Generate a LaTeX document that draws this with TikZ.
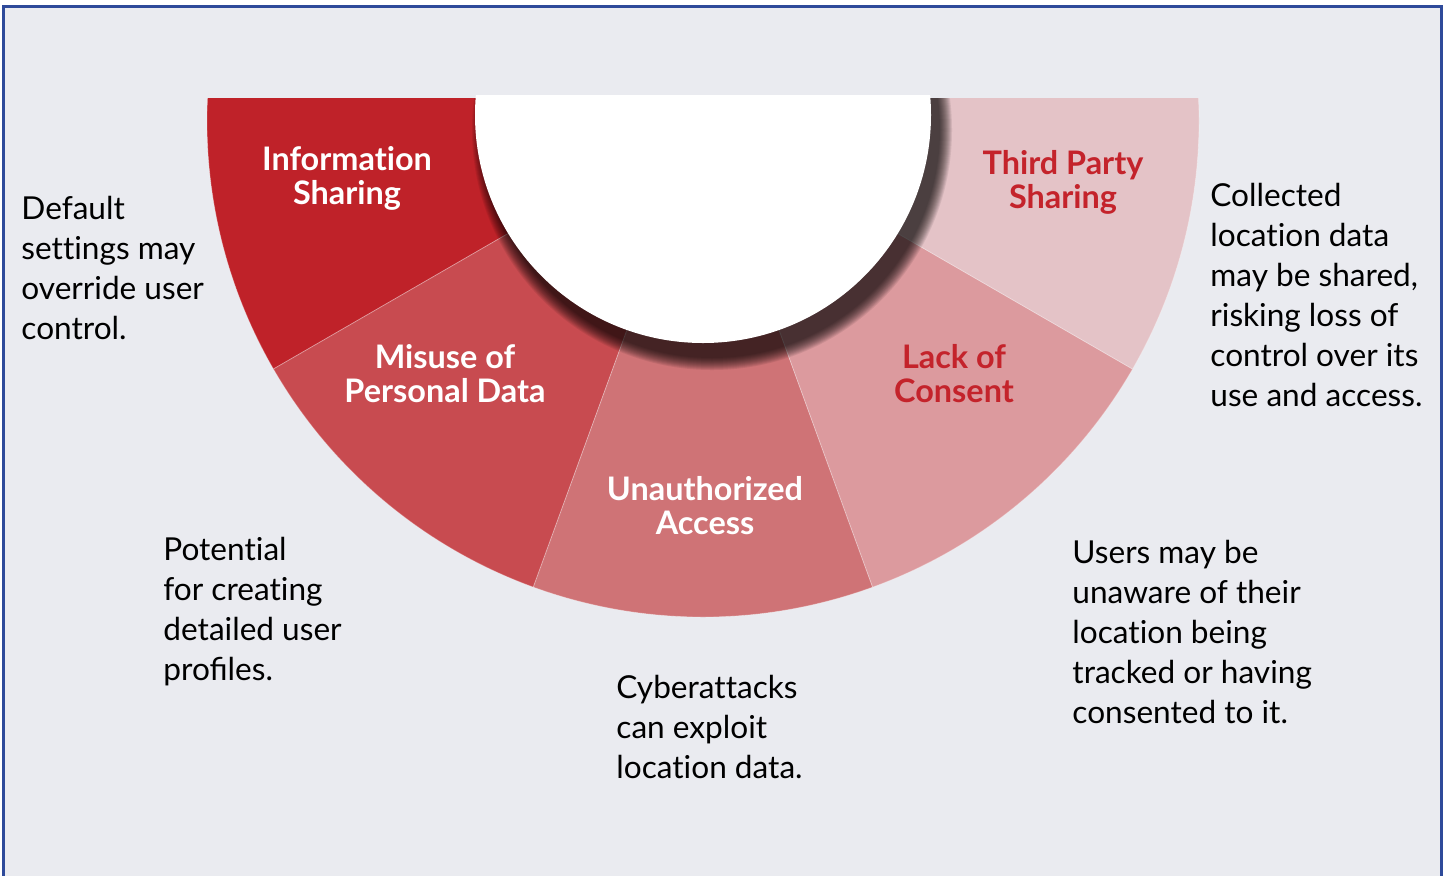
\documentclass[tikz,border=0pt]{standalone}
\usepackage{fontspec}
\setmainfont{Lato}[Ligatures=NoCommon]
\usepackage{xcolor}
\usetikzlibrary{positioning}

\definecolor{segone}{RGB}{191,34,41}
\definecolor{segtwo}{RGB}{200,75,80}
\definecolor{segthree}{RGB}{207,115,118}
\definecolor{segfour}{RGB}{220,154,158}
\definecolor{segfive}{RGB}{228,195,199}
\definecolor{redtxt}{RGB}{196,35,43}
\definecolor{bgcol}{RGB}{234,235,240}
\definecolor{bordcol}{RGB}{46,74,154}

\begin{document}
\begin{tikzpicture}[x=0.5pt, y=0.5pt,
    seg/.style={draw=white, draw opacity=0.3, line width=0.4pt},
    seglabel/.style={font=\fontsize{16.2}{17}\selectfont\bfseries, align=center, anchor=base, inner sep=0pt},
    desclabel/.style={font=\fontsize{15.8}{20}\selectfont, align=left, anchor=base west, inner sep=0pt}]
    \useasboundingbox (0,0) rectangle (1445,-875);
    \fill[white] (0,0) rectangle (1445,-875);
    \fill[bgcol] (3,-6) rectangle (1441,-880);
    \draw[bordcol, line width=1.5pt] (3,-880) -- (3,-6) -- (1441,-6) -- (1441,-880);

    % half ring of five parts
    \coordinate (ctr) at (703,-121);
    \begin{scope}
        \clip (0,-98) rectangle (1445,-875);
        \fill[segone, seg] (ctr) -- ++(170:496) arc[start angle=170, end angle=210, radius=496] -- cycle;
        \fill[segtwo, seg] (ctr) -- ++(210:496) arc[start angle=210, end angle=250, radius=496] -- cycle;
        \fill[segthree, seg] (ctr) -- ++(250:496) arc[start angle=250, end angle=290, radius=496] -- cycle;
        \fill[segfour, seg] (ctr) -- ++(290:496) arc[start angle=290, end angle=330, radius=496] -- cycle;
        \fill[segfive, seg] (ctr) -- ++(330:496) arc[start angle=330, end angle=370, radius=496] -- cycle;
        % shadow of the hole
        \foreach \k in {12,11,...,0}
            \fill[black, fill opacity=0.08] (712,-130) circle[radius=228+\k];
    \end{scope}
    \begin{scope}
        \clip (0,-95) rectangle (1445,-875);
        \fill[white] (703,-115) circle[radius=228];
    \end{scope}

    \node (infoshr) [seglabel, text=white] at (347,-204) {Information\\Sharing};
    \node (misuse) [seglabel, text=white] at (445,-402) {Misuse of\\Personal Data};
    \node (unauth) [seglabel, text=white] at (705,-534) {Unauthorized\\Access};
    \node (consent) [seglabel, text=redtxt] at (954,-402) {Lack of\\Consent};
    \node (thirdpty) [seglabel, text=redtxt] at (1063,-208) {Third Party\\Sharing};

    \node (infodesc) [desclabel] at (21,-339) {Default\\settings may\\override user\\control.};
    \node (misusedesc) [desclabel] at (163,-680) {Potential\\for creating\\detailed user\\pro^^^^fb01les.};
    \node (unauthdesc) [desclabel] at (616,-778) {Cyberattacks\\can exploit\\location data.};
    \node (consentdesc) [desclabel] at (1072,-723) {Users may be\\unaware of their\\location being\\tracked or having\\consented to it.};
    \node (thirddesc) [desclabel] at (1210,-406) {Collected\\location data\\may be shared,\\risking loss of\\control over its\\use and access.};
\end{tikzpicture}
\end{document}
